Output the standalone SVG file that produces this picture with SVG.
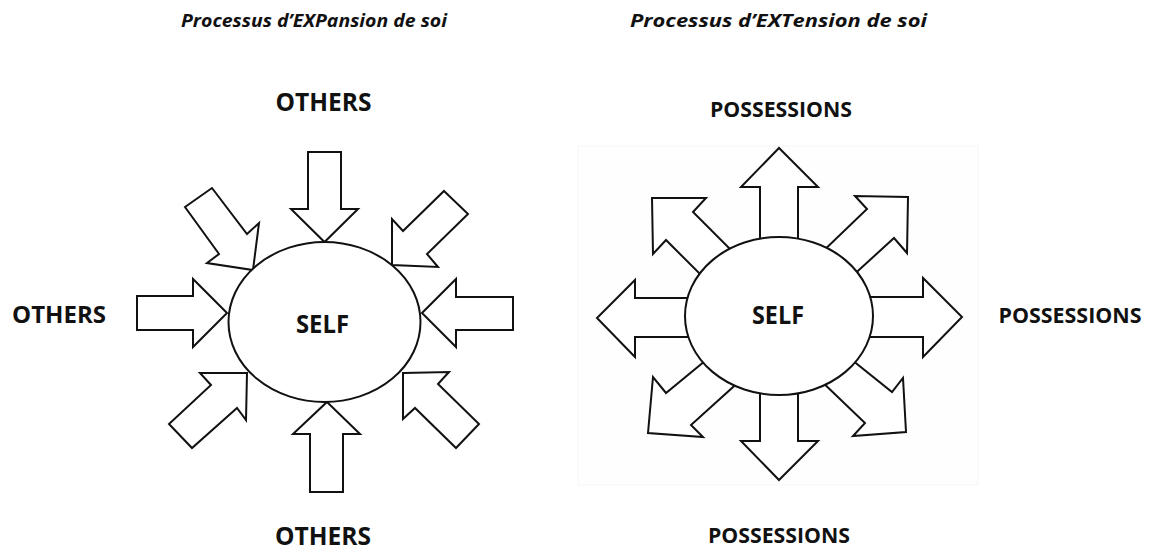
<svg xmlns="http://www.w3.org/2000/svg" width="1159" height="551" viewBox="0 0 1159 551">
<style>
.arr{fill:#fff;stroke:#111;stroke-width:2;stroke-linejoin:miter}
.self{fill:#fff;stroke:#111;stroke-width:2}
.lbl{font-family:"Open Sans","Noto Sans",sans-serif;font-weight:bold;fill:#111}
.ttl{font-family:"Open Sans","Noto Sans",sans-serif;font-weight:bold;font-style:italic;font-size:18px;fill:#111}
</style>
<rect width="1159" height="551" fill="#fff"/>
<g id="titles">
<text class="ttl" x="181" y="27" textLength="266" lengthAdjust="spacingAndGlyphs">Processus d’EXPansion de soi</text>
<text class="ttl" x="630" y="27" textLength="297" lengthAdjust="spacingAndGlyphs">Processus d’EXTension de soi</text>
</g>
<rect id="image-frame" x="578" y="146" width="400" height="339" fill="#fefefe" stroke="#f6f6f6" stroke-width="1"/>
<g id="connectors">
<!-- Expansion: arrows pointing in -->
<polygon class="arr" points="308,152 341,152 341,209 358,209 324.5,242 291,209 308,209"/>
<polygon class="arr" points="185,207 212,188 247,234 259,223 253,270 207,263 219,254"/>
<polygon class="arr" points="444,191 468,214 427,254 438,267 392,265 392,219 403,231"/>
<polygon class="arr" points="422,313 456,279 456,297 513,297 513,330 456,330 456,347"/>
<polygon class="arr" points="403,373 449,372 438,384 479,424 456,448 415,408 403,419"/>
<polygon class="arr" points="227,313 193,279 193,296 137,296 137,330 193,330 193,347"/>
<polygon class="arr" points="247,373 200,373 211,385 169,424 192,448 237,408 246,420"/>
<polygon class="arr" points="327,402 360,434 343,434 343,492 310,492 310,434 293,434"/>
<!-- Extension: arrows pointing out -->
<polygon class="arr" points="760,250 760,187 741,187 779,148 818,187 798,187 798,250"/>
<polygon class="arr" points="740,259 693,212 706,198 652,198 653,254 666,240 710,284"/>
<polygon class="arr" points="817,257 867,209 855,196 908,197 907,253 894,238 848,280"/>
<polygon class="arr" points="700,298 635,298 635,280 597,318 635,357 635,337 700,337"/>
<polygon class="arr" points="860,297 923,297 923,278 962,317 923,357 923,337 860,337"/>
<polygon class="arr" points="711,356 666,393 653,377 648,433 703,437 691,425 743,378"/>
<polygon class="arr" points="760,380 760,441 741,441 779,480 818,441 798,441 798,380"/>
<polygon class="arr" points="817,377 865,423 853,436 906,432 903,378 892,392 847,356"/>
</g>
<g id="self-expansion">
<ellipse class="self" cx="324.5" cy="322" rx="96" ry="80"/>
<text class="lbl" x="322.5" y="333" font-size="25" text-anchor="middle" textLength="53" lengthAdjust="spacingAndGlyphs">SELF</text>
</g>
<g id="self-extension">
<ellipse class="self" cx="779" cy="316" rx="94" ry="79"/>
<text class="lbl" x="778" y="324" font-size="25" text-anchor="middle" textLength="52" lengthAdjust="spacingAndGlyphs">SELF</text>
</g>
<g id="others-top"><text class="lbl" x="323.5" y="111" font-size="25" text-anchor="middle" textLength="96" lengthAdjust="spacingAndGlyphs">OTHERS</text></g>
<g id="others-left"><text class="lbl" x="59" y="323" font-size="24" text-anchor="middle" textLength="94" lengthAdjust="spacingAndGlyphs">OTHERS</text></g>
<g id="others-bottom"><text class="lbl" x="323" y="545" font-size="25" text-anchor="middle" textLength="96" lengthAdjust="spacingAndGlyphs">OTHERS</text></g>
<g id="possessions-top"><text class="lbl" x="781" y="117" font-size="22" text-anchor="middle" textLength="142" lengthAdjust="spacingAndGlyphs">POSSESSIONS</text></g>
<g id="possessions-right"><text class="lbl" x="1070" y="323" font-size="22" text-anchor="middle" textLength="143" lengthAdjust="spacingAndGlyphs">POSSESSIONS</text></g>
<g id="possessions-bottom"><text class="lbl" x="779" y="543" font-size="22" text-anchor="middle" textLength="142" lengthAdjust="spacingAndGlyphs">POSSESSIONS</text></g>
</svg>
